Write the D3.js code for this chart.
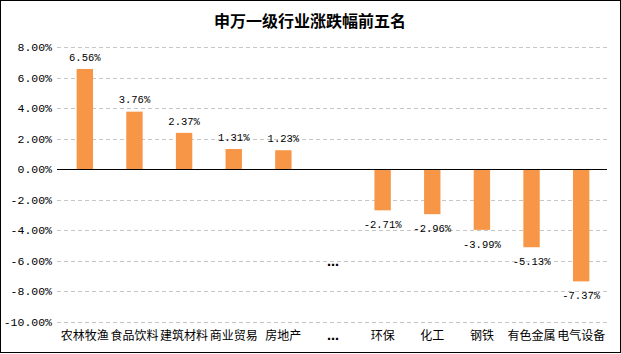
<!DOCTYPE html>
<html>
<head>
<meta charset="utf-8">
<script src="https://cdn.jsdelivr.net/npm/d3@7"></script>
<style>
  html, body { margin: 0; padding: 0; background: #fff; }
  svg { display: block; }
</style>
</head>
<body>
<div id="chart"></div>
<script>
// data
let categories = ["农林牧渔", "食品饮料", "建筑材料", "商业贸易", "房地产", "…", "环保", "化工", "钢铁", "有色金属", "电气设备"];
let values = [6.56, 3.76, 2.37, 1.31, 1.23, null, -2.71, -2.96, -3.99, -5.13, -7.37];
let yTicks = [8, 6, 4, 2, 0, -2, -4, -6, -8, -10];
let title = "申万一级行业涨跌幅前五名";

let W = 621, H = 354;
let cjk = "'Noto Sans CJK SC', sans-serif";
let mono = "'Liberation Mono', 'DejaVu Sans Mono', monospace";

let svg = d3.select("#chart").append("svg")
    .attr("width", W)
    .attr("height", H);

// outer frame
svg.append("rect")
    .attr("x", 0.5).attr("y", 0.5)
    .attr("width", W - 1).attr("height", H - 2)
    .attr("fill", "#fff")
    .attr("stroke", "#000");

let x = d3.scaleBand().domain(categories).range([60, 606]).paddingInner(0.67).paddingOuter(0.335);
let y = d3.scaleLinear().domain([-10, 8]).range([321.5, 47]);

// grid lines
svg.append("g")
  .selectAll("line")
  .data(yTicks.filter(d => d !== 0))
  .enter().append("line")
    .attr("x1", 57).attr("x2", 607)
    .attr("y1", d => Math.round(y(d)) + 0.5)
    .attr("y2", d => Math.round(y(d)) + 0.5)
    .attr("stroke", "#c6c6c6")
    .attr("stroke-dasharray", "4,3");

// y axis labels
let yAxis = svg.append("g")
    .attr("transform", "translate(57,0)")
    .call(d3.axisLeft(y).tickValues(yTicks).tickSize(0).tickPadding(5)
      .tickFormat(d => d.toFixed(2) + "%"));
yAxis.select(".domain").remove();
yAxis.selectAll("text")
    .attr("font-family", mono)
    .attr("font-size", "11.5px")
    .attr("fill", "#000");

// bars
let data = categories.map((c, i) => ({cat: c, val: values[i]}));
let barData = data.filter(d => d.val !== null);

svg.append("g")
  .selectAll("rect")
  .data(barData)
  .enter().append("rect")
    .attr("x", d => x(d.cat))
    .attr("width", x.bandwidth())
    .attr("y", d => y(Math.max(0, d.val)))
    .attr("height", d => Math.abs(y(d.val) - y(0)))
    .attr("fill", "#f79646");

// zero line
svg.append("line")
    .attr("x1", 57).attr("x2", 607)
    .attr("y1", Math.round(y(0)) + 0.5)
    .attr("y2", Math.round(y(0)) + 0.5)
    .attr("stroke", "#000");

// value labels
svg.append("g")
  .selectAll("text")
  .data(barData)
  .enter().append("text")
    .attr("x", d => x(d.cat) + x.bandwidth() / 2)
    .attr("y", d => d.val >= 0 ? y(d.val) - 12 : y(d.val) + 14)
    .attr("dy", "0.35em")
    .attr("text-anchor", "middle")
    .attr("font-family", mono)
    .attr("font-size", "10.5px")
    .text(d => d.val.toFixed(2) + "%");

// ellipsis marker inside the plot
svg.append("text")
    .attr("x", x("…") + x.bandwidth() / 2)
    .attr("y", y(-6.2))
    .attr("dy", "0.2em")
    .attr("text-anchor", "middle")
    .attr("font-family", "'DejaVu Sans', sans-serif")
    .attr("font-size", "12px")
    .attr("font-weight", "bold")
    .text("…");

// category labels
svg.append("g")
  .selectAll("text")
  .data(categories)
  .enter().append("text")
    .attr("x", d => x(d) + x.bandwidth() / 2)
    .attr("y", 336)
    .attr("dy", "0.35em")
    .attr("text-anchor", "middle")
    .attr("font-family", d => d === "…" ? "'DejaVu Sans', sans-serif" : cjk)
    .attr("font-weight", d => d === "…" ? "bold" : "normal")
    .attr("font-size", "12px")
    .text(d => d);

// title
svg.append("text")
    .attr("x", 310)
    .attr("y", 21)
    .attr("dy", "0.35em")
    .attr("text-anchor", "middle")
    .attr("font-family", cjk)
    .attr("font-size", "16px")
    .attr("font-weight", "bold")
    .text(title);
</script>
</body>
</html>
